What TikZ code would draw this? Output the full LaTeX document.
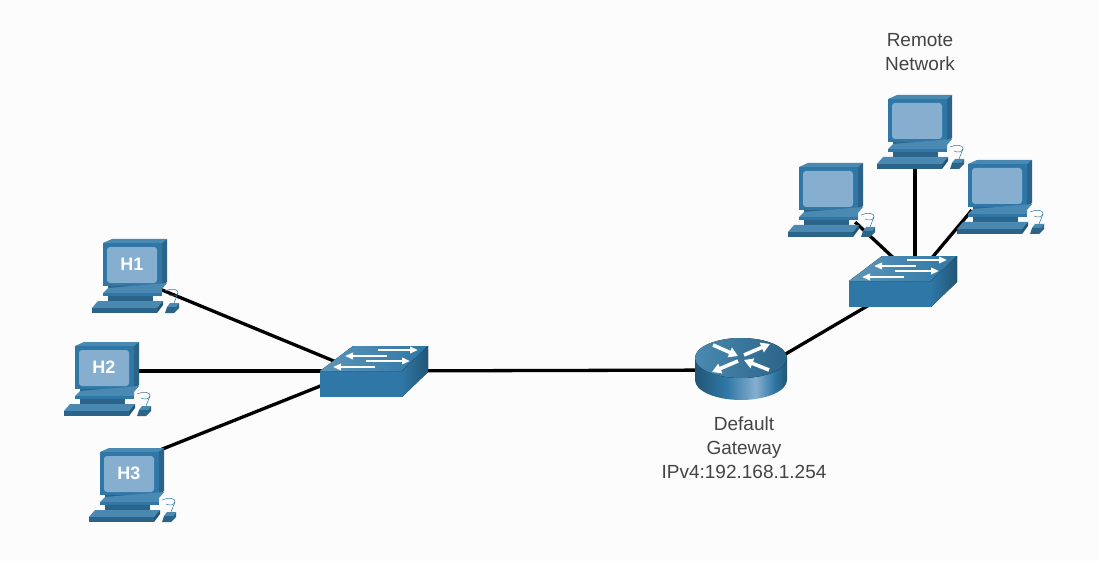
\documentclass[tikz,border=0pt]{standalone}
\usepackage{fontspec}
\setmainfont{Liberation Sans}
\usetikzlibrary{arrows.meta}
\definecolor{pagebg}{HTML}{FCFCFC}
\definecolor{netfront}{HTML}{2F77A6}
\definecolor{netside}{HTML}{2B6488}
\definecolor{nettop}{HTML}{4A89B1}
\definecolor{netdark}{HTML}{215675}
\definecolor{netscreen}{HTML}{86AFCF}
\definecolor{labelgray}{HTML}{444444}
\pgfdeclarehorizontalshading{routerbody}{100bp}{
    color(0bp)=(netdark); color(25bp)=(netdark); color(42bp)=(netfront); color(58bp)=(netscreen);
    color(68bp)=(netfront); color(75bp)=(netdark); color(100bp)=(netdark)}
\tikzset{
    edgen/.style = {-,line width=3.3pt,black},
    port/.style = {circle, inner sep=0pt, minimum size=0pt},
    pcname/.style = {font=\bfseries\fontsize{18}{20}\selectfont,text=white,inner sep=0pt},
    netlabel/.style = {align=center,font=\fontsize{19}{24}\selectfont,text=labelgray,inner sep=0pt},
    flowarrow/.style = {line width=2.2pt,white,-{Triangle[length=8pt,width=6.5pt]}},
    routerarrow/.style = {line width=3.6pt,white,-{Triangle[length=9pt,width=10pt]}},
    pcicon/.pic = {
        % monitor
        \fill[nettop] (0,4) -- (9,0) -- (64,0) -- (59,4) -- cycle;
        \fill[netside] (59,4) -- (64,0) -- (64,43) -- (59,47) -- cycle;
        \fill[netfront] (0,4) rectangle (59,47);
        \fill[netscreen,rounded corners=3pt] (4,8) rectangle (54,44);
        % stand
        \fill[netside] (5,47) rectangle (59,50);
        \fill[nettop] (0,54) -- (5,49) -- (64,44) -- (59,50) -- (59,54) -- cycle;
        \fill[netfront] (0,54) rectangle (59,57);
        \fill[netside] (5,57) rectangle (50,62);
        % keyboard
        \fill[nettop] (-5,62) -- (60,62) -- (54,69) -- (-11,69) -- cycle;
        \fill[netside] (-11,69) rectangle (54,74);
        \fill[netdark] (54,69) -- (60,62) -- (60,66) -- (54,74) -- cycle;
        % mouse and cable
        \fill[nettop] (67,64) -- (76,64) -- (73,68) -- (64,68) -- cycle;
        \fill[netside] (64,68) -- (73,68) -- (76,64) -- (76,69) -- (71,74) -- (62,74) -- cycle;
        \draw[netfront,line width=0.5pt] (62,52) .. controls (68,49) and (76,50) .. (75,54)
            .. controls (74,57) and (70,58) .. (66,56);
        \draw[netfront,line width=0.5pt] (75,54) -- (71,64);
    },
    switchicon/.pic = {
        \fill[netfront] (0,0) rectangle (82,26);
        \fill[left color=nettop!90!white,right color=netfront] (0,0) -- (33,-25) -- (108,-25) -- (82,0) -- cycle;
        \fill[left color=netfront,right color=netdark] (82,0) -- (108,-25) -- (108,1) -- (82,26) -- cycle;
        \draw[flowarrow] (58,-21) -- (98,-21);
        \draw[flowarrow] (67,-15) -- (25,-15);
        \draw[flowarrow] (46,-10) -- (90,-10);
        \draw[flowarrow] (55,-4) -- (13,-4);
    },
    routericon/.pic = {
        \shade[shading=routerbody] (-46,0) -- (-46,22) arc[start angle=180,end angle=0,x radius=46,y radius=20]
            -- (46,0) -- cycle;
        \fill[left color=nettop,right color=netside] (0,0) ellipse[x radius=46,y radius=20];
        \draw[routerarrow] (-28,-13) -- (-3,-2);
        \draw[routerarrow] (28,12) -- (3,2);
        \draw[routerarrow] (3,-3) -- (29,-14);
        \draw[routerarrow] (-3,3) -- (-29,14);
    }
}
\begin{document}
\begin{tikzpicture}[x=1pt,y=-1pt]
\fill[pagebg] (0,0) rectangle (1099,561);

\node[port] at (150,285) (h1) {};
\node[port] at (120,371) (h2) {};
\node[port] at (145,456) (h3) {};
\node[port] at (358,371) (sw1) {};
\node[port,minimum height=20pt,minimum width=92pt,rectangle] at (741,370) (gw) {};
\node[port] at (915,278) (sw2) {};
\node[port] at (915,150) (pc1) {};
\node[port] at (855,222) (pc2) {};
\node[port] at (972,210) (pc3) {};

\draw[edgen] (h1) -- (sw1);
\draw[edgen] (h2) -- (sw1);
\draw[edgen] (h3) -- (sw1);
\draw[edgen] (sw1) -- (gw.center);
\draw[edgen] (gw.south) -- (sw2);
\draw[edgen] (pc1) -- (sw2);
\draw[edgen] (pc2) -- (sw2);
\draw[edgen] (pc3) -- (sw2);

\pic at (103,239) {pcicon};
\pic at (75,342) {pcicon};
\pic at (100,448) {pcicon};
\pic at (888,95) {pcicon};
\pic at (799,163) {pcicon};
\pic at (968,160) {pcicon};
\pic at (320,371) {switchicon};
\pic at (849,281) {switchicon};
\pic at (741,358) {routericon};

\node[pcname] at (132,264) (h1name) {H1};
\node[pcname] at (104,367) (h2name) {H2};
\node[pcname] at (129,473) (h3name) {H3};
\node[netlabel] at (920,52.5) (remote) {Remote\\Network};
\node[netlabel] at (744,447.5) (gwname) {Default\\Gateway\\IPv4:192.168.1.254};
\end{tikzpicture}
\end{document}
